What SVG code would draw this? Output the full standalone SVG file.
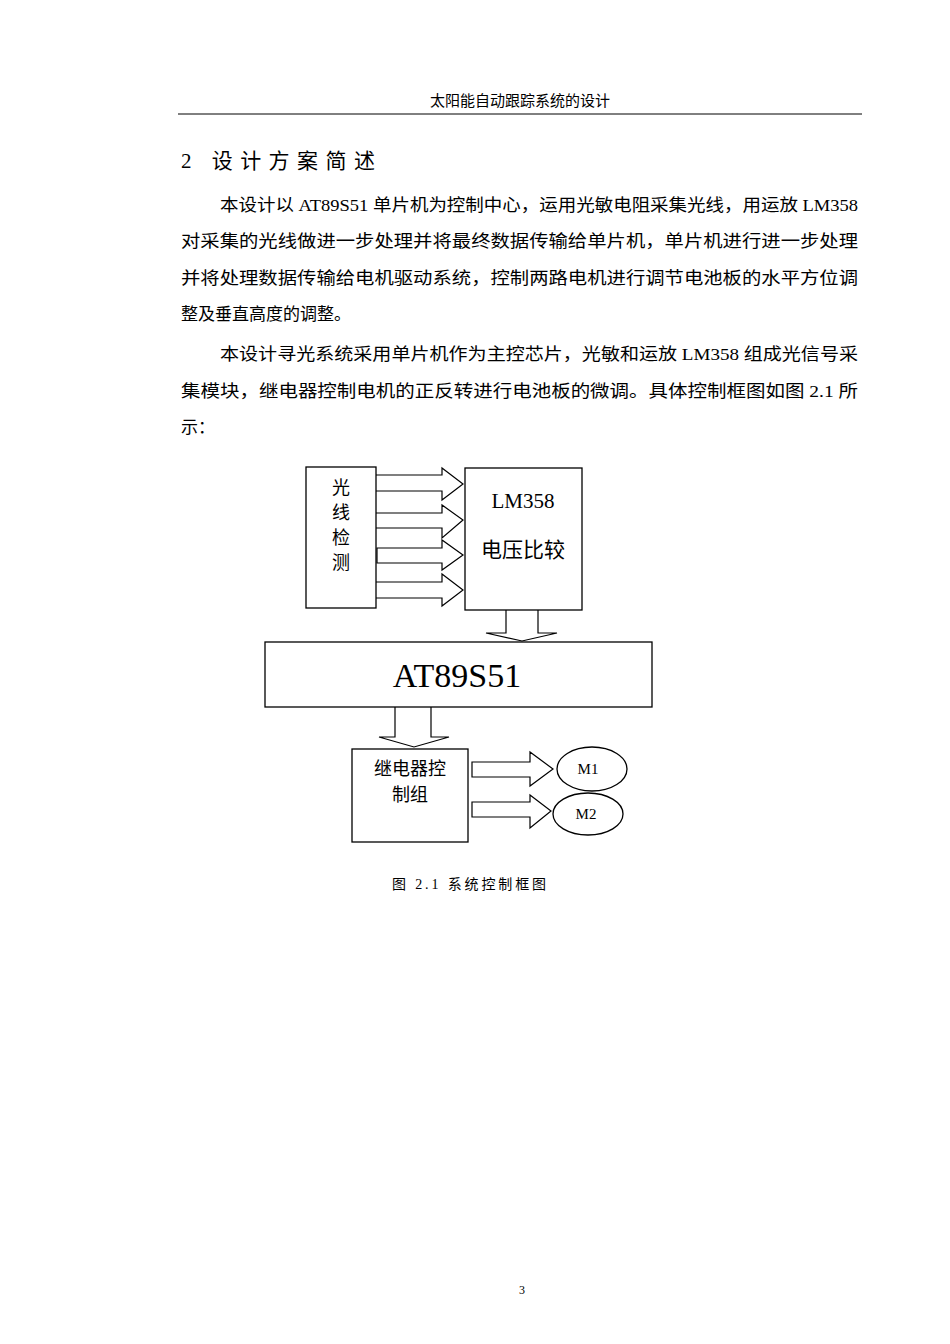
<svg xmlns="http://www.w3.org/2000/svg" width="950" height="1344" viewBox="0 0 950 1344">
<style>
.t{font-family:"Liberation Serif","Noto Sans CJK SC",serif;fill:#000}
.b{font-size:17px}
.box{fill:#fff;stroke:#000;stroke-width:1.3}
.arr{fill:#fff;stroke:#000;stroke-width:1.2}
</style>
<rect width="950" height="1344" fill="#fff"/>
<text class="t" x="520" y="106" font-size="15" text-anchor="middle">太阳能自动跟踪系统的设计</text>
<line x1="178" y1="114" x2="862" y2="114" stroke="#000" stroke-width="1"/>
<text class="t" x="181" y="168" font-size="21" font-family="Noto Sans CJK SC,sans-serif" textLength="194" lengthAdjust="spacing">2 设计方案简述</text>
<g class="t b">
<text x="220" y="211" textLength="638" lengthAdjust="spacingAndGlyphs">本设计以 AT89S51 单片机为控制中心，运用光敏电阻采集光线，用运放 LM358</text>
<text x="181" y="247" textLength="677" lengthAdjust="spacingAndGlyphs">对采集的光线做进一步处理并将最终数据传输给单片机，单片机进行进一步处理</text>
<text x="181" y="284" textLength="677" lengthAdjust="spacingAndGlyphs">并将处理数据传输给电机驱动系统，控制两路电机进行调节电池板的水平方位调</text>
<text x="181" y="320">整及垂直高度的调整。</text>
<text x="220" y="360" textLength="638" lengthAdjust="spacingAndGlyphs">本设计寻光系统采用单片机作为主控芯片，光敏和运放 LM358 组成光信号采</text>
<text x="181" y="397" textLength="677" lengthAdjust="spacingAndGlyphs">集模块，继电器控制电机的正反转进行电池板的微调。具体控制框图如图 2.1 所</text>
<text x="181" y="433">示：</text>
</g>
<g id="connectors">
<path class="arr" d="M376,475 H442 V468 L463,484 L442,500 V491 H376"/>
<path class="arr" d="M376,513 H442 V505 L463,520 L442,538 V528 H376"/>
<path class="arr" d="M377,548 H442 V540 L463,555 L442,570 V563 H377 Z"/>
<path class="arr" d="M376,582 H442 V574 L463,590 L442,606 V598 H376"/>
<path class="arr" d="M506,610 V633 H486 L522,641 L557,633 H538 V610"/>
<path class="arr" d="M395,707 V737 H379 L414,747 L449,737 H431 V707"/>
<path class="arr" d="M472,762 H530 V752 L553,769 L530,786 V777 H472 Z"/>
<path class="arr" d="M472,802 H530 V795 L551,811 L530,828 V817 H472 Z"/>
</g>
<g id="light"><rect class="box" x="306" y="467" width="70" height="141"/>
<text class="t" font-size="18" x="341" text-anchor="middle"><tspan x="341" y="494">光</tspan><tspan x="341" y="519">线</tspan><tspan x="341" y="544">检</tspan><tspan x="341" y="569">测</tspan></text></g>
<g id="lm358"><rect class="box" x="465" y="468" width="117" height="142"/>
<text class="t" font-size="21" x="523" y="508" text-anchor="middle">LM358</text>
<text class="t" font-size="21" x="523" y="557" text-anchor="middle">电压比较</text></g>
<g id="mcu"><rect class="box" x="265" y="642" width="387" height="65"/>
<text class="t" font-size="34" x="457" y="687" text-anchor="middle">AT89S51</text></g>
<g id="relay"><rect class="box" x="352" y="749" width="116" height="93"/>
<text class="t" font-size="18" x="410" y="775" text-anchor="middle">继电器控</text>
<text class="t" font-size="18" x="410" y="801" text-anchor="middle">制组</text></g>
<g id="m1"><ellipse class="box" cx="592" cy="769" rx="35" ry="22"/><text class="t" font-size="15" x="588" y="774" text-anchor="middle">M1</text></g>
<g id="m2"><ellipse class="box" cx="588" cy="814" rx="35" ry="21"/><text class="t" font-size="15" x="586" y="819" text-anchor="middle">M2</text></g>
<text class="t" font-size="14" x="392" y="889" textLength="154" lengthAdjust="spacing">图 2.1 系统控制框图</text>
<text class="t" font-size="12" x="522" y="1294" text-anchor="middle">3</text>
</svg>
